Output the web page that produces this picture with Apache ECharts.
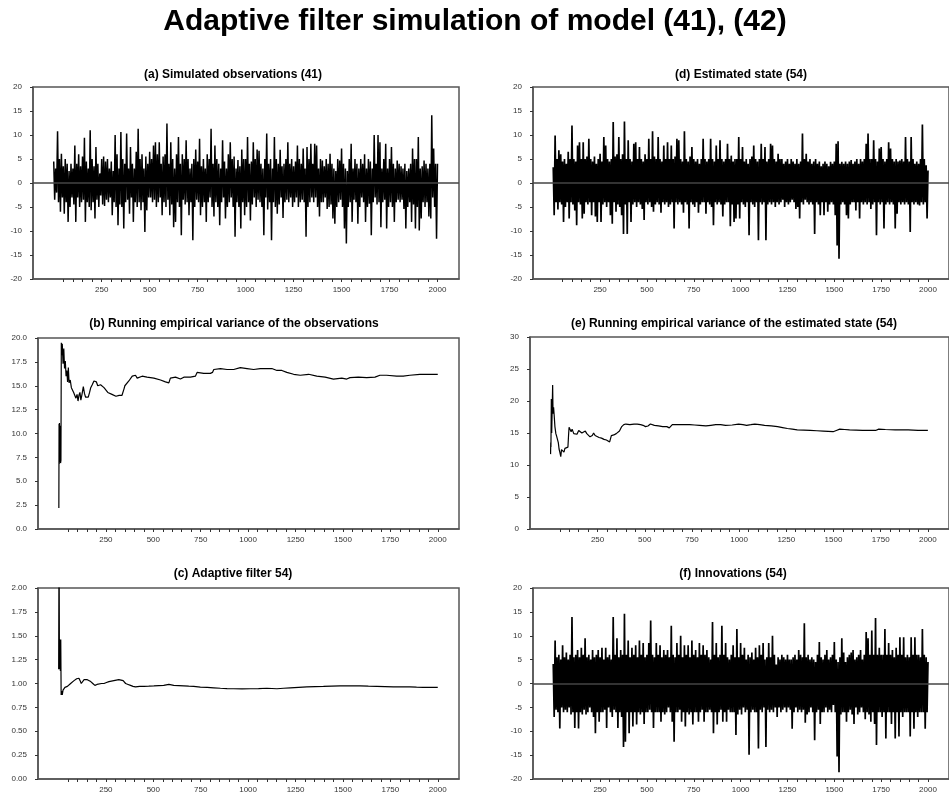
<!DOCTYPE html>
<html>
<head>
<meta charset="utf-8">
<title>Adaptive filter simulation</title>
<script src="https://cdn.jsdelivr.net/npm/echarts@6.0.0/dist/echarts.min.js"></script>
<style>
  html, body { margin: 0; padding: 0; background: #fff; }
  #chart { width: 949px; height: 796px; }
</style>
</head>
<body>
<div id="chart"></div>
<script>
// noisy series: upper peaks read every 10 steps (t = 0, 10, ...),
// lower troughs read half a step later (t = 5, 15, ...)
const noiseStep = 10

// (a) simulated observations
const obsHigh = [
  4.5, 3, 10.8, 5, 6.1, 3.5, 5, 4, 2.5, 4,
  3, 7.8, 4, 6, 3.5, 5.5, 9.4, 4.5, 3, 11,
  5, 3.5, 7.5, 4, 2, 5, 5.5, 4.5, 5, 3,
  4.5, 2.5, 10, 6, 3, 10.6, 5, 4, 10.3, 3,
  7.5, 4, 3, 6.5, 11.3, 5, 6, 3, 5.5, 4,
  6.5, 5, 7.8, 8.5, 6, 8.5, 4, 5.5, 6, 12.4,
  4, 8.5, 5, 3, 6, 9.6, 4, 6, 5, 8.9,
  5, 3, 4, 5, 7, 4.5, 9.2, 3.5, 5, 3,
  6, 5, 11.3, 4, 7.8, 5, 4, 3, 8.9, 4.5,
  3, 6, 8.5, 5, 5.5, 3, 4.8, 3.5, 7, 5,
  5, 9.6, 4, 4.5, 8.5, 5, 7, 6.7, 4, 3,
  5, 10.3, 4, 5, 3, 9.6, 5, 4, 6.9, 3.5,
  4, 5, 8.5, 4, 5, 3.5, 4.5, 7.8, 5, 4,
  7.2, 3, 7.5, 5, 8.2, 4, 8.2, 7.8, 3, 5,
  4.7, 3.5, 5, 4, 6.1, 4, 3, 2.5, 5, 4.7,
  7.2, 4, 3, 2.5, 5, 8.2, 3, 5, 4, 3,
  5, 4, 6, 3, 5, 4.5, 3, 10, 4, 10,
  8.5, 3, 5, 8.2, 3, 5, 7.5, 4, 3, 4.7,
  4, 3.5, 3, 4, 2.5, 3, 4, 7.2, 5, 5,
  9.6, 3, 3.5, 4.7, 4, 3, 4, 14.1, 7.2, 4,
  4
]
const obsLow = [
  -3.5, -2, -4, -6, -3, -6.4, -4, -8.1, -5, -3,
  -4.5, -8.1, -3, -5, -4, -3.5, -8.1, -4, -5, -5.7,
  -4, -7.4, -3.5, -5, -2.6, -4.5, -4.8, -3.5, -4, -3,
  -6.7, -4, -5, -8.8, -4.5, -5, -9.5, -4, -3.5, -6.4,
  -3, -8.1, -4, -5, -4, -5.7, -4, -10.2, -5.7, -3,
  -3, -4, -3.5, -5, -4, -3, -6.7, -4, -5, -3.5,
  -6.7, -4.5, -9.2, -8.1, -4, -5, -10.9, -3.5, -4.5, -4,
  -6.7, -4, -11.9, -5, -3.5, -4, -6.7, -5, -4, -8.1,
  -4, -3, -5, -7, -4, -5, -8.8, -4, -3, -7.4,
  -5, -4, -3, -5, -11.2, -4, -5, -9.5, -4, -6.7,
  -5, -4, -7.8, -4.5, -3, -5, -3.5, -4, -5, -10.9,
  -3, -5.5, -4, -11.9, -4, -5, -6.4, -4.5, -3, -7.3,
  -4, -3.5, -4, -3, -5, -4, -3, -5, -4, -3.5,
  -4, -11.2, -5, -4, -3, -4, -3, -5, -7, -4,
  -4, -3, -5.4, -5, -4.5, -7.4, -8.5, -5, -4, -3.5,
  -5, -9.5, -12.6, -5, -4, -8.1, -3.5, -4, -8.5, -5,
  -3, -4, -8.1, -5, -4.3, -10.9, -4, -3, -4.5, -4,
  -9.2, -4, -3.5, -9.5, -5, -4, -5, -8.1, -4, -3.5,
  -4, -3.5, -5.4, -9.5, -5, -4, -8.1, -4.5, -9.5, -5,
  -9.9, -7.4, -4, -5, -4, -7, -7.4, -3, -5, -11.6
]

// (d) estimated state
const stateHigh = [
  3.3, 9.9, 5, 6.8, 6, 4.5, 5, 4, 6.5, 5,
  12, 5, 4.5, 7.8, 8.5, 5, 8.5, 5, 5.5, 9.2,
  5, 4.5, 5.5, 4, 5, 6.1, 4.5, 9.6, 7.8, 5,
  4.5, 5, 12.7, 5.5, 6, 9.6, 5, 6, 12.8, 5,
  8.9, 5, 4.5, 8.2, 8.5, 5, 7.5, 5, 4.5, 6,
  5, 9.2, 5, 10.8, 5.5, 5, 9.6, 5, 4.5, 7.8,
  5, 8.5, 5, 7.8, 5, 5.5, 9.2, 8.9, 5, 4.5,
  10.8, 5, 4.5, 5.5, 7.5, 5, 4.5, 5, 4, 5,
  9.2, 5, 4.5, 5, 9.2, 5, 4.5, 7.8, 5, 8.9,
  5, 4.5, 5, 8.2, 5, 5.7, 4.5, 5, 5, 9.6,
  5, 7.5, 4.5, 5, 4, 5, 5.5, 7.8, 5, 4.5,
  5, 8.2, 5, 7.5, 4.5, 5, 8.2, 7.8, 5, 4.5,
  6.1, 5, 5, 4, 4.5, 5, 4, 5, 4.5, 4,
  5, 4, 4.5, 10.3, 5, 6.1, 4.5, 5, 4, 4.5,
  5, 4, 4.5, 3.5, 4, 4.5, 4, 3.5, 4.4, 4,
  4.5, 8.2, 8.7, 4, 4.4, 4, 4.5, 4, 4.5, 4.8,
  4, 4.5, 5, 4, 5, 4.5, 5, 8.2, 10.3, 5,
  5, 8.9, 5, 4.5, 7.2, 7.5, 5, 4.5, 5, 8.5,
  7.2, 5, 4.5, 5, 4.5, 4.7, 5, 4.5, 9.6, 5,
  4.5, 9.6, 5, 4, 4.5, 4, 5, 12.2, 5, 3.7,
  2.6
]
const stateLow = [
  -6.7, -4, -5.5, -4, -4.5, -8.1, -5, -4, -7.4, -4,
  -4.5, -5.7, -8.8, -4, -4.5, -7.4, -6.4, -4, -4.5, -4,
  -6.7, -4, -7, -8.1, -4, -8.1, -4.5, -4, -5, -4,
  -6.7, -8.5, -4, -6, -4.5, -5, -6.7, -10.6, -4.5, -10.6,
  -4, -8.1, -4.5, -4, -5, -4, -4.5, -5.4, -7.7, -4,
  -4.5, -4, -5, -6, -4.5, -4, -4.5, -6.2, -4, -4.5,
  -4, -5, -4.5, -4, -9.5, -4, -4.5, -4, -4.5, -6.2,
  -4, -4.5, -9.5, -4, -4.5, -5, -4, -6.2, -4.5, -4,
  -4, -6.4, -4, -4.5, -5, -8.8, -4, -4.5, -4, -4.5,
  -7, -4.5, -4, -4, -9, -4.5, -8.1, -7.4, -4.5, -7.4,
  -4, -4.5, -5, -4, -10.9, -4, -4.5, -5, -4, -11.9,
  -4, -4.5, -4, -11.9, -4.5, -4, -4.5, -4, -5, -4,
  -4.5, -4, -3.5, -5, -4, -4.5, -4, -3.5, -4, -5.4,
  -5, -7.4, -4, -4.5, -3.5, -4, -4.5, -4, -4.5, -10.6,
  -4, -4.5, -6.7, -4, -6.7, -4, -6, -4.5, -4, -4.5,
  -6.7, -13, -15.8, -4.5, -4, -4.5, -6.7, -7.4, -4.5, -4,
  -4, -5.7, -4, -7.4, -4, -4.5, -4, -4.5, -4, -5.4,
  -4.5, -4, -10.9, -4, -4.5, -4, -9.5, -4.5, -4, -4.5,
  -4, -4.5, -9.5, -6.4, -4, -4.5, -4, -4.5, -4, -4.5,
  -10.2, -4, -4.5, -4, -4.5, -4.7, -4, -4.5, -4, -7.4
]

// (f) innovations
const innovHigh = [
  4.1, 9, 5.5, 6, 5, 8, 5.5, 6.5, 5, 6,
  13.9, 5.5, 6, 7, 5.5, 7.5, 6, 9.5, 5.5, 6,
  5, 7, 5.5, 6, 7, 5.5, 7.5, 5, 7.5, 5.5,
  6, 5, 13.9, 6, 9.5, 5.5, 7, 6, 14.6, 6,
  9, 5.5, 7.5, 6, 8, 5.5, 9, 6, 8.5, 5.5,
  6, 8.5, 13.2, 6, 5.5, 8.5, 6, 8, 5.5, 7,
  6, 7, 5.5, 12.1, 6, 5.5, 8.5, 6, 10, 5.5,
  8, 6, 8, 5.5, 9, 6, 7, 5.5, 8.5, 6,
  8, 6, 7, 5.5, 5, 12.9, 6, 8.5, 5.5, 6,
  12.1, 6, 8.5, 5.5, 5, 6, 8, 5.5, 11.4, 5.5,
  8.5, 6, 7.5, 5, 6, 5.5, 6.5, 5, 7.5, 5.5,
  8, 6, 8.5, 5, 5.5, 8.5, 5.5, 10, 6, 4,
  5.5, 5, 6, 5.5, 5, 6, 5, 5, 5.5, 6,
  5, 7, 6, 5.5, 12.6, 5.5, 6, 5, 5.5, 5,
  4.5, 6, 8.7, 5.5, 5, 6, 7, 5, 5.5, 6,
  8.7, 5, 4.5, 5.5, 9.5, 6.5, 4.5, 5.5, 6, 6.5,
  7, 5, 5.5, 6, 7, 5, 6, 10.8, 9.5, 6,
  11.1, 6, 13.7, 6, 7.5, 6, 6, 11.4, 6, 8.5,
  6, 7, 5.5, 7.5, 6, 9.7, 6, 9.7, 5.5, 6,
  5.5, 9.7, 6, 9.7, 6, 6, 5.5, 11.4, 6, 5.5,
  4.5
]
const innovLow = [
  -7, -5.5, -6, -9.4, -5, -6, -5.5, -6, -5, -6.5,
  -6, -9.3, -6, -9.4, -6, -6.5, -5.5, -6.5, -6, -5,
  -6, -7, -10.4, -6, -8, -6, -6, -5.5, -9.3, -5,
  -6, -7, -5.5, -6, -9.3, -6, -7, -13.3, -12.2, -6,
  -10.4, -6, -9, -6, -8.6, -6, -6.5, -6, -8.5, -6,
  -6, -5.5, -6, -9.3, -6, -6, -6, -8, -6, -6.5,
  -6, -5, -6, -8, -12.2, -6, -6, -5.5, -8, -6,
  -9, -6, -6.5, -6, -8.6, -6, -6, -8, -6, -5.5,
  -8, -6, -6, -5.5, -6, -10.4, -6, -8.6, -6, -5.5,
  -8, -6, -8, -5.5, -6, -6, -6, -10.8, -6.5, -5.5,
  -6.5, -5, -6, -5.5, -14.9, -6, -5.5, -6, -6, -13.6,
  -5.5, -6, -5, -13.3, -5.5, -6, -5.5, -6, -5, -7,
  -5, -6, -5.5, -5, -6, -5, -5.5, -9.5, -6, -5,
  -6, -5.5, -6, -5.5, -8.2, -6.5, -6, -5, -6, -11.9,
  -6, -5.5, -8.5, -6, -6, -5, -6, -5.5, -6, -4.5,
  -6, -15.3, -18.6, -6.5, -6, -6, -8, -6, -5.5, -6.5,
  -8.5, -5, -6.5, -6, -5, -6, -7.5, -6, -6.5, -8,
  -6, -8.5, -12.9, -6, -6, -7, -6, -11.5, -6, -6,
  -8.5, -6, -11.5, -6, -11.1, -6, -7, -6, -6, -6,
  -11.1, -6, -9.5, -6, -7, -6, -6, -6, -9.5, -6
]

// (b) running empirical variance of the observations
const varObsX = [2, 3, 4, 5, 7, 9, 11, 13, 15, 18, 20, 24, 28, 32, 36, 40, 44, 48, 52, 56,
  62, 68, 74, 80, 86, 92, 98, 103, 108, 113, 118, 124, 131, 137, 143, 150, 157, 164, 170, 178,
  187, 194, 200, 207, 213, 222, 231, 240, 250, 260, 270, 282, 292, 303, 313, 320, 327, 335, 341, 346,
  350, 360, 371, 380, 389, 398, 406, 415, 424, 441, 467, 503, 538, 564, 582, 590, 617, 643, 661, 696,
  722, 728, 731, 766, 801, 812, 819, 854, 889, 924, 959, 994, 1029, 1064, 1099, 1125, 1152, 1178, 1204, 1240,
  1275, 1319, 1362, 1406, 1450, 1494, 1520, 1537, 1581, 1625, 1669, 1695, 1730, 1783, 1818, 1853, 1906, 1958, 2000]
const varObsY = [2.2, 11.0, 6.8, 11.1, 7.0, 10.8, 6.9, 7.2, 19.5, 18.2, 19.4, 17.3, 18.9, 16.8, 17.6, 16.0, 16.6, 15.4, 16.9, 15.3,
  15.6, 14.8, 14.9, 14.3, 14.5, 13.7, 14.1, 13.4, 14.0, 14.3, 13.5, 14.1, 14.9, 14.2, 13.8, 14.0, 13.8, 14.3, 14.8, 15.1,
  15.5, 15.7, 15.4, 15.0, 15.2, 15.1, 14.9, 14.8, 14.6, 14.3, 14.2, 14.1, 14.0, 13.9, 13.8, 14.0, 14.1, 14.0, 14.1, 14.7,
  15.0, 15.2, 15.5, 15.7, 16.0, 16.1, 16.1, 15.8, 15.9, 16.0, 15.9, 15.8, 15.6, 15.4, 15.3, 15.8, 15.9, 15.7, 15.9, 15.9,
  16.0, 16.0, 16.4, 16.3, 16.3, 16.4, 16.7, 16.8, 16.7, 16.7, 16.9, 16.8, 16.7, 16.8, 16.8, 16.8, 16.6, 16.6, 16.4, 16.2,
  16.1, 16.2, 16.0, 15.9, 15.7, 15.8, 15.7, 15.85, 15.9, 15.85, 15.9, 16.1, 16.1, 16.0, 16.0, 16.1, 16.2, 16.2, 16.2]

// (c) adaptive filter
const filterX = [1, 3, 5, 8, 10, 12, 14, 17, 20, 24, 29, 34, 38, 43, 47, 55, 64, 73, 82, 90,
  96, 102, 108, 114, 120, 127, 135, 143, 152, 161, 170, 181, 192, 203, 213, 227, 240, 253, 266, 279,
  292, 305, 318, 330, 341, 348, 354, 367, 380, 393, 406, 428, 450, 476, 503, 529, 555, 582, 608, 634,
  661, 687, 713, 748, 784, 819, 854, 889, 924, 968, 1012, 1055, 1099, 1152, 1187, 1222, 1266, 1310, 1353, 1397,
  1441, 1485, 1537, 1590, 1634, 1678, 1722, 1766, 1810, 1853, 1888, 1923, 1962, 2000]
const filterY = [1.15, 2.6, 1.15, 1.46, 1.13, 1.46, 0.88, 0.92, 0.88, 0.93, 0.92, 0.96, 0.95, 0.98, 0.97, 0.99, 1.00, 1.01, 1.03, 1.04,
  1.05, 1.04, 1.055, 1.03, 1.00, 1.02, 1.04, 1.045, 1.04, 1.03, 1.02, 1.00, 0.98, 0.99, 1.00, 1.00, 1.00, 1.01, 1.02, 1.025,
  1.03, 1.035, 1.04, 1.035, 1.03, 1.01, 1.00, 0.99, 0.98, 0.97, 0.965, 0.97, 0.97, 0.972, 0.975, 0.978, 0.98, 0.99, 0.98, 0.978,
  0.975, 0.972, 0.97, 0.962, 0.96, 0.955, 0.95, 0.947, 0.945, 0.944, 0.945, 0.947, 0.95, 0.945, 0.95, 0.955, 0.96, 0.965, 0.968, 0.97,
  0.973, 0.975, 0.975, 0.975, 0.972, 0.97, 0.968, 0.965, 0.966, 0.965, 0.962, 0.96, 0.96, 0.96]

// (e) running empirical variance of the estimated state
const varStateX = [1, 2, 3, 5, 7, 9, 12, 14, 17, 20, 24, 29, 33, 37, 42, 46, 50, 55, 59, 63,
  68, 72, 77, 81, 87, 93, 96, 99, 105, 110, 115, 124, 133, 141, 150, 158, 167, 176, 185, 193,
  202, 210, 216, 222, 229, 237, 245, 258, 271, 284, 297, 306, 314, 323, 336, 349, 358, 366, 372, 378,
  389, 400, 421, 443, 460, 478, 491, 504, 517, 530, 551, 573, 595, 617, 630, 637, 646, 666, 686, 712,
  738, 764, 790, 824, 850, 876, 902, 928, 963, 997, 1020, 1040, 1062, 1083, 1109, 1135, 1170, 1204, 1230, 1256,
  1282, 1308, 1343, 1377, 1412, 1446, 1472, 1498, 1515, 1533, 1559, 1585, 1620, 1654, 1689, 1723, 1740, 1775, 1827, 1862,
  1896, 1922, 1948, 1975, 2000]
const varStateY = [11.7, 13.5, 12.8, 20.3, 15.0, 18.0, 22.5, 18.0, 19.0, 17.8, 16.0, 14.9, 14.5, 14.3, 13.5, 12.5, 12.0, 11.3, 12.4, 12.7,
  12.1, 12.0, 12.6, 12.3, 12.9, 12.8, 14.5, 15.9, 15.7, 15.2, 15.6, 14.9, 15.2, 14.8, 15.4, 15.3, 15.0, 15.2, 15.3, 14.9,
  14.7, 14.4, 14.3, 14.6, 15.0, 14.6, 14.4, 14.3, 14.2, 14.0, 13.9, 13.8, 13.6, 14.6, 14.7, 14.9, 15.1, 15.3, 15.6, 16.0,
  16.3, 16.4, 16.3, 16.4, 16.4, 16.3, 16.2, 16.0, 16.1, 16.4, 16.2, 16.1, 16.0, 16.0, 15.8, 15.8, 16.3, 16.3, 16.3, 16.3,
  16.3, 16.25, 16.2, 16.1, 16.2, 16.3, 16.3, 16.2, 16.25, 16.4, 16.3, 16.2, 16.3, 16.4, 16.3, 16.2, 16.1, 16.0, 15.85, 15.7,
  15.6, 15.5, 15.45, 15.4, 15.35, 15.3, 15.25, 15.2, 15.4, 15.6, 15.55, 15.5, 15.45, 15.4, 15.4, 15.4, 15.6, 15.55, 15.5, 15.5,
  15.5, 15.45, 15.4, 15.4, 15.4]

// x axis ticks and labels, shared by all panels
const xTickValues = [50, 100, 150, 200, 250, 300, 350, 400, 450, 500, 550, 600, 650, 700, 750, 800,
  850, 900, 950, 1000, 1050, 1100, 1150, 1200, 1250, 1300, 1350, 1400, 1450, 1500, 1550, 1600,
  1650, 1700, 1750, 1800, 1850, 1900, 1950, 2000]
const xLabelValues = [250, 500, 750, 1000, 1250, 1500, 1750, 2000]

function pairs (xs, ys) {
  return xs.map((x, i) => [x, ys[i]])
}
// interleave peaks and troughs into one time-ordered path
function envelope (high, low) {
  const out = []
  high.forEach((h, i) => {
    out.push([i * noiseStep, h])
    if (i < low.length) out.push([i * noiseStep + noiseStep / 2, low[i]])
  })
  return out
}

const panels = [
  {
    title: '(a) Simulated observations (41)', tx: 233, ty: 69,
    grid: { left: 33, top: 87, width: 426, height: 192 },
    yMin: -20, yMax: 20, yStep: 5, digits: 0, zero: true, width: 1.5,
    data: envelope(obsHigh, obsLow)
  },
  {
    title: '(b) Running empirical variance of the observations', tx: 234, ty: 318,
    grid: { left: 38, top: 338, width: 421, height: 191 },
    yMin: 0, yMax: 20, yStep: 2.5, digits: 1, zero: false, width: 1.2,
    data: pairs(varObsX, varObsY)
  },
  {
    title: '(c) Adaptive filter 54)', tx: 233, ty: 568,
    grid: { left: 38, top: 588, width: 421, height: 191 },
    yMin: 0, yMax: 2, yStep: 0.25, digits: 2, zero: false, width: 1.2,
    data: pairs(filterX, filterY)
  },
  {
    title: '(d) Estimated state (54)', tx: 741, ty: 69,
    grid: { left: 533, top: 87, width: 426, height: 192 },
    yMin: -20, yMax: 20, yStep: 5, digits: 0, zero: true, width: 1.7,
    data: envelope(stateHigh, stateLow)
  },
  {
    title: '(e) Running empirical variance of the estimated state (54)', tx: 734, ty: 318,
    grid: { left: 530, top: 337, width: 428, height: 192 },
    yMin: 0, yMax: 30, yStep: 5, digits: 0, zero: false, width: 1.2,
    data: pairs(varStateX, varStateY)
  },
  {
    title: '(f) Innovations (54)', tx: 733, ty: 568,
    grid: { left: 533, top: 588, width: 426, height: 191 },
    yMin: -20, yMax: 20, yStep: 5, digits: 0, zero: true, width: 1.7,
    data: envelope(innovHigh, innovLow)
  }
]

const chart = echarts.init(document.getElementById('chart'))

const option = {
  animation: false,
  backgroundColor: '#fff',
  textStyle: { fontFamily: 'Liberation Sans, Arial, sans-serif' },
  title: [{
    text: 'Adaptive filter simulation of model (41), (42)',
    left: 475,
    top: 7,
    textAlign: 'center',
    padding: 0,
    textStyle: { fontSize: 30, fontWeight: 'bold', color: '#000' }
  }],
  grid: [],
  xAxis: [],
  yAxis: [],
  series: []
}

panels.forEach((p, i) => {
  option.title.push({
    text: p.title,
    left: p.tx,
    top: p.ty,
    textAlign: 'center',
    padding: 0,
    textStyle: { fontSize: 12, fontWeight: 'bold', color: '#000' }
  })
  option.grid.push(Object.assign({
    show: true,
    borderColor: '#555',
    borderWidth: 1.5,
    backgroundColor: 'transparent'
  }, p.grid))
  option.xAxis.push({
    gridIndex: i,
    type: 'value',
    min: -108,
    max: 2112,
    axisLine: { show: true, onZero: false, lineStyle: { color: '#555', width: 1.5 } },
    axisTick: { show: true, customValues: xTickValues, length: 3, lineStyle: { color: '#333' } },
    axisLabel: { customValues: xLabelValues, fontSize: 8, color: '#333', margin: 7, formatter: v => String(v) },
    splitLine: { show: false }
  })
  option.yAxis.push({
    gridIndex: i,
    type: 'value',
    min: p.yMin,
    max: p.yMax,
    interval: p.yStep,
    axisLine: { show: true, onZero: false, lineStyle: { color: '#555', width: 1.5 } },
    axisTick: { show: true, length: 3, lineStyle: { color: '#333' } },
    axisLabel: { fontSize: 8, color: '#333', margin: 11, formatter: v => v.toFixed(p.digits) },
    splitLine: { show: false }
  })
  const s = {
    type: 'line',
    xAxisIndex: i,
    yAxisIndex: i,
    data: p.data,
    symbol: 'none',
    silent: true,
    clip: true,
    lineStyle: { color: '#000', width: p.width }
  }
  if (p.zero) {
    s.markLine = {
      silent: true,
      symbol: 'none',
      label: { show: false },
      lineStyle: { color: '#444', width: 1.5, type: 'solid' },
      data: [{ yAxis: 0 }]
    }
  }
  option.series.push(s)
})

chart.setOption(option)
</script>
</body>
</html>
